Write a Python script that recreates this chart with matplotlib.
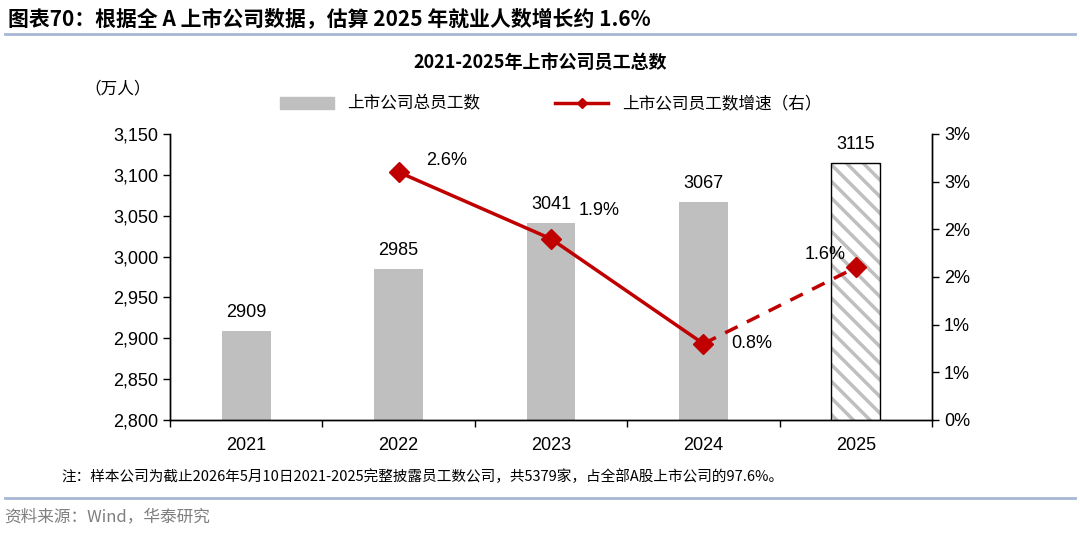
import matplotlib
matplotlib.use("Agg")
import matplotlib.pyplot as plt
from matplotlib.lines import Line2D
from matplotlib.patches import Patch

plt.rcParams["font.family"] = ["Liberation Sans", "Noto Sans CJK SC"]
plt.rcParams["hatch.linewidth"] = 2.5

years = ["2021", "2022", "2023", "2024", "2025"]
employees = [2909, 2985, 3041, 3067, 3115]
growth_years = [1, 2, 3, 4]
growth = [2.6, 1.9, 0.8, 1.6]
growth_labels = ["2.6%", "1.9%", "0.8%", "1.6%"]
left_ticks = [2800, 2850, 2900, 2950, 3000, 3050, 3100, 3150]
right_ticks = [0, 0.5, 1.0, 1.5, 2.0, 2.5, 3.0]
right_tick_labels = ["0%", "1%", "1%", "2%", "2%", "3%", "3%"]

RED = "#C00000"
GREY = "#BFBFBF"
CJK = ["Noto Sans CJK SC", "Liberation Sans"]

fig = plt.figure(figsize=(10.8, 5.34), dpi=100)
ax = fig.add_axes([0.1574, 0.2135, 0.7056, 0.5356])
ax2 = ax.twinx()

x = list(range(len(years)))
# actual bars (solid grey), estimate bar (hatched)
ax.bar(x[:4], employees[:4], width=0.32, color=GREY, zorder=2)
ax.bar(x[4:], employees[4:], width=0.32, color="white", edgecolor=GREY,
       hatch="\\\\", linewidth=0, zorder=2)
ax.bar(x[4:], employees[4:], width=0.32, fill=False, edgecolor="black",
       linewidth=1.0, zorder=2)
for xi, v in zip(x, employees):
    ax.text(xi, v + 12, str(v), ha="center", va="bottom", fontsize=13)

ax.set_xlim(-0.5, 4.5)
ax.set_ylim(2800, 3150)
ax.set_yticks(left_ticks)
ax.set_yticklabels([f"{t:,}" for t in left_ticks])
ax.set_xticks(x)
ax.set_xticklabels(years)
ax.set_xticks([i - 0.5 for i in range(len(years) + 1)], minor=True)
ax.tick_params(axis="x", which="major", length=0, labelsize=13, pad=12)
ax.tick_params(axis="x", which="minor", length=5, width=1.0, direction="out")
ax.tick_params(axis="y", labelsize=13, length=5, width=1.0, direction="out")
ax.spines["top"].set_visible(False)

ax2.plot(growth_years[:3], growth[:3], color=RED, lw=2.5, marker="D", ms=10, zorder=3)
ax2.plot(growth_years[2:], growth[2:], color=RED, lw=2.5, ls=(0, (4, 3)), zorder=3)
ax2.plot(growth_years[3:], growth[3:], color=RED, marker="D", ms=10, ls="none", zorder=3)
ax2.set_ylim(0, 3.0)
ax2.set_yticks(right_ticks)
ax2.set_yticklabels(right_tick_labels)
ax2.tick_params(axis="y", labelsize=13, length=5, width=1.0, direction="out")
ax2.spines["top"].set_visible(False)
offsets = [(0.18, 0.12), (0.18, 0.3), (0.18, 0.0), (-0.2, 0.14)]
for xi, v, lab, (dx, dy) in zip(growth_years, growth, growth_labels, offsets):
    ax2.text(xi + dx, v + dy, lab, ha="left" if dx > 0 else "center", va="center", fontsize=13)

for a in (ax, ax2):
    for s in ["left", "right", "bottom"]:
        a.spines[s].set_linewidth(1.0)

handles = [Patch(color=GREY), Line2D([], [], color=RED, lw=2.5, marker="D", ms=5)]
fig.legend(handles, ["上市公司总员工数", "上市公司员工数增速（右）"], loc="center",
           bbox_to_anchor=(0.51, 0.805), ncol=2, frameon=False,
           handlelength=3.2, columnspacing=4.5, prop={"family": CJK, "size": 12})

fig.text(0.078, 0.833, "（万人）", fontsize=12, family=CJK, va="center")
fig.text(0.007, 0.965, "图表70：根据全 A 上市公司数据，估算 2025 年就业人数增长约 1.6%",
         fontsize=15, fontweight="bold", family=CJK, va="center")
fig.text(0.5, 0.884, "2021-2025年上市公司员工总数", fontsize=13, fontweight="bold",
         family=CJK, ha="center", va="center")
fig.text(0.057, 0.107, "注：样本公司为截止2026年5月10日2021-2025完整披露员工数公司，共5379家，占全部A股上市公司的97.6%。",
         fontsize=10.5, family=CJK, va="center")
fig.text(0.004, 0.033, "资料来源：Wind，华泰研究", fontsize=12, family=CJK, color="#7F7F7F", va="center")

fig.add_artist(Line2D([0.005, 0.995], [0.937, 0.937], color="#A6B8D4", lw=2))
fig.add_artist(Line2D([0.005, 0.995], [0.068, 0.068], color="#A6B8D4", lw=2))

fig.savefig("out.png", dpi=100)
